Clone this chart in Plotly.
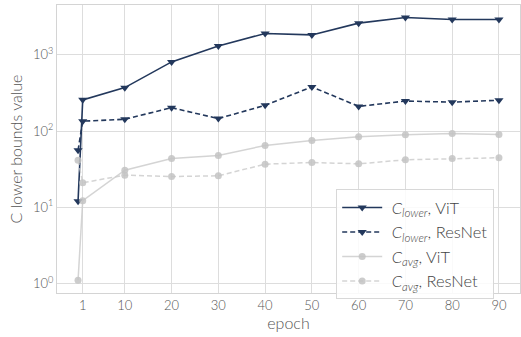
import plotly.graph_objects as go

# epochs at which the bounds were evaluated
epochs = [0, 1, 10, 20, 30, 40, 50, 60, 70, 80, 90]

# C lower bound, per architecture
c_lower_vit = [12, 257, 372, 810, 1310, 1910, 1830, 2610, 3100, 2920, 2920]
c_lower_resnet = [56, 135, 143, 203, 146, 218, 380, 211, 248, 240, 254]

# C average, per architecture
c_avg_vit = [1.1, 12.2, 30.7, 43.7, 47.9, 64.8, 75.5, 84.4, 89.7, 93.3, 90.5]
c_avg_resnet = [41.5, 21, 26.4, 25.3, 25.9, 36.8, 38.7, 37.2, 42, 43.7, 44.7]

x_ticks = [1, 10, 20, 30, 40, 50, 60, 70, 80, 90]
y_ticks = [1, 10, 100, 1000]
y_tick_text = ["10<sup>0</sup>", "10<sup>1</sup>", "10<sup>2</sup>", "10<sup>3</sup>"]

NAVY = "#23385c"
GRAY_LINE = "rgba(205,205,205,0.85)"
GRAY_MARK = "rgba(195,195,195,0.85)"
FONT = "Lato"

fig = go.Figure()

fig.add_trace(go.Scatter(
    x=epochs, y=c_lower_vit, mode="lines+markers",
    name=" <i>C</i><sub><i>lower</i></sub>, ViT",
    line=dict(color=NAVY, width=1.6),
    marker=dict(symbol="triangle-down", size=8, color=NAVY),
))
fig.add_trace(go.Scatter(
    x=epochs, y=c_lower_resnet, mode="lines+markers",
    name=" <i>C</i><sub><i>lower</i></sub>, ResNet",
    line=dict(color=NAVY, width=1.6, dash="5px,3px"),
    marker=dict(symbol="triangle-down", size=8, color=NAVY),
))
fig.add_trace(go.Scatter(
    x=epochs, y=c_avg_vit, mode="lines+markers",
    name=" <i>C</i><sub><i>avg</i></sub>, ViT",
    line=dict(color=GRAY_LINE, width=1.5),
    marker=dict(symbol="circle", size=7, color=GRAY_MARK),
))
fig.add_trace(go.Scatter(
    x=epochs, y=c_avg_resnet, mode="lines+markers",
    name=" <i>C</i><sub><i>avg</i></sub>, ResNet",
    line=dict(color=GRAY_LINE, width=1.5, dash="5px,3px"),
    marker=dict(symbol="circle", size=7, color=GRAY_MARK),
))

axis_common = dict(
    showgrid=True, gridcolor="#dddddd", gridwidth=1,
    showline=True, linecolor="#d4d4d4", linewidth=1.2, mirror=True,
    zeroline=False, ticks="",
    tickfont=dict(family=FONT, size=13, color="#555555", weight=300),
)

fig.update_layout(
    width=521, height=337,
    margin=dict(l=57, r=1, t=5, b=44),
    paper_bgcolor="white", plot_bgcolor="white",
    font=dict(family=FONT, color="#444444"),
    showlegend=True,
    legend=dict(
        x=0.603, y=0.36, xanchor="left", yanchor="top",
        bgcolor="rgba(255,255,255,0.85)", bordercolor="#d8d8d8", borderwidth=1,
        font=dict(family=FONT, size=16.5, color="#444444", weight=300),
        tracegroupgap=0, itemwidth=40,
    ),
    xaxis=dict(
        axis_common,
        range=[-4.5, 94.5],
        tickmode="array", tickvals=x_ticks, ticktext=[str(t) for t in x_ticks],
        title=dict(text="epoch", font=dict(family=FONT, size=16, color="#555555", weight=300), standoff=4),
    ),
    yaxis=dict(
        axis_common,
        type="log",
        range=[-0.125, 3.655],
        tickmode="array", tickvals=y_ticks, ticktext=y_tick_text,
        title=dict(text="C lower bounds value", font=dict(family=FONT, size=16, color="#555555", weight=300), standoff=6),
    ),
)

fig.write_html("out.html")
